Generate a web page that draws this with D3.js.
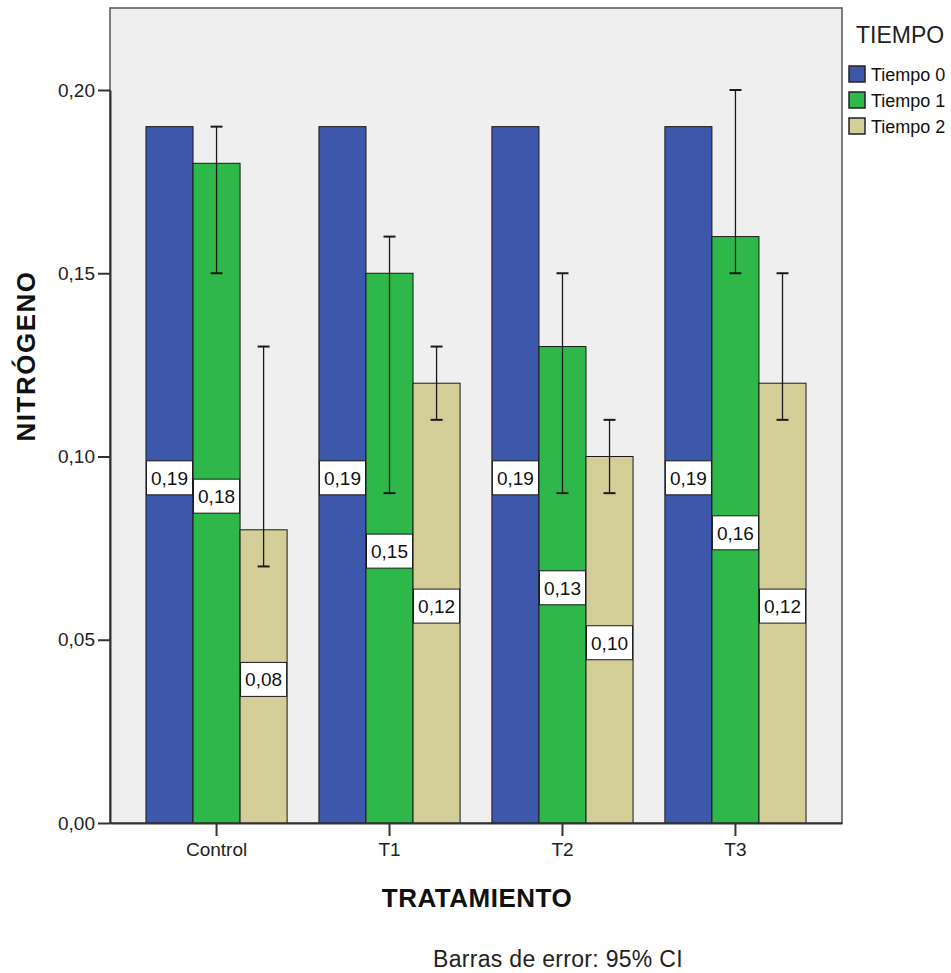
<!DOCTYPE html>
<html><head><meta charset="utf-8">
<script src="https://cdn.jsdelivr.net/npm/d3@7"></script>
<style>body{margin:0;background:#fff;} text{font-family:Arial,"Liberation Sans",sans-serif;}</style>
</head><body>
<svg id="c" width="951" height="973"></svg>
<script>
const categories = ["Control", "T1", "T2", "T3"];
const seriesNames = ["Tiempo 0", "Tiempo 1", "Tiempo 2"];
const tiempo0 = [0.19, 0.19, 0.19, 0.19];
const tiempo1 = [0.18, 0.15, 0.13, 0.16];
const tiempo2 = [0.08, 0.12, 0.10, 0.12];
const tiempo1Low = [0.15, 0.09, 0.09, 0.15];
const tiempo1High = [0.19, 0.16, 0.15, 0.20];
const tiempo2Low = [0.07, 0.11, 0.09, 0.11];
const tiempo2High = [0.13, 0.13, 0.11, 0.15];
const yTicks = [0, 0.05, 0.10, 0.15, 0.20];
const colors = ["#3d57aa", "#2fb84a", "#d3ce97"];

const values = [tiempo0, tiempo1, tiempo2];
const lows = [null, tiempo1Low, tiempo2Low];
const highs = [null, tiempo1High, tiempo2High];

const svg = d3.select("#c");
const L = 110, R = 842, T = 8, B = 823;
const y = d3.scaleLinear().domain([0, 0.2]).range([B, 90]);
const x0 = d3.scaleBand().domain(categories).range([L, R]).paddingInner(0.184).paddingOuter(0.208);
const x1 = d3.scaleBand().domain(seriesNames).range([0, x0.bandwidth()]);

svg.append("rect").attr("x", L).attr("y", T).attr("width", R - L).attr("height", B - T)
  .attr("fill", "#efefef").attr("stroke", "#555").attr("stroke-width", 1.5);

const fmt = v => d3.format(".2f")(v).replace(".", ",");

// bars
categories.forEach((c, i) => {
  seriesNames.forEach((s, j) => {
    const v = values[j][i];
    svg.append("rect").attr("x", x0(c) + x1(s)).attr("y", y(v))
      .attr("width", x1.bandwidth()).attr("height", y(0) - y(v))
      .attr("fill", colors[j]).attr("stroke", "#1a1a1a").attr("stroke-width", 1);
  });
});
// labels
categories.forEach((c, i) => {
  seriesNames.forEach((s, j) => {
    const v = values[j][i];
    const cy = y(v / 2) + 3;
    const bx = x0(c) + x1(s);
    svg.append("rect").attr("x", bx + 0.5).attr("y", cy - 17).attr("width", x1.bandwidth() - 1).attr("height", 34)
      .attr("fill", "#fff").attr("stroke", "#1a1a1a").attr("stroke-width", 1);
    svg.append("text").attr("x", bx + x1.bandwidth() / 2).attr("y", cy + 7)
      .attr("text-anchor", "middle").attr("font-size", 19).attr("fill", "#111").text(fmt(v));
  });
});
// error bars
categories.forEach((c, i) => {
  seriesNames.forEach((s, j) => {
    if (!lows[j]) return;
    const cx = x0(c) + x1(s) + x1.bandwidth() / 2;
    const lo = lows[j][i], hi = highs[j][i];
    const g = svg.append("g").attr("stroke", "#1a1a1a").attr("stroke-width", 1.3);
    g.append("line").attr("x1", cx).attr("x2", cx).attr("y1", y(lo)).attr("y2", y(hi));
    g.append("line").attr("x1", cx - 6).attr("x2", cx + 6).attr("y1", y(lo)).attr("y2", y(lo)).attr("stroke-width", 2);
    g.append("line").attr("x1", cx - 6).attr("x2", cx + 6).attr("y1", y(hi)).attr("y2", y(hi)).attr("stroke-width", 2);
  });
});

// y axis
const ya = svg.append("g").attr("transform", `translate(${L},0)`)
  .call(d3.axisLeft(y).tickValues(yTicks).tickSize(12).tickSizeOuter(0).tickPadding(3).tickFormat(fmt));
ya.select(".domain").attr("stroke", "#333").attr("stroke-width", 2);
ya.selectAll(".tick line").attr("stroke", "#333").attr("stroke-width", 2);
ya.selectAll(".tick text").attr("font-size", 19).attr("fill", "#222").attr("font-family", "Arial,Liberation Sans,sans-serif");

// x axis
const xa = svg.append("g").attr("transform", `translate(0,${B})`)
  .call(d3.axisBottom(x0).tickSize(13).tickSizeOuter(0).tickPadding(7));
xa.select(".domain").attr("stroke", "#333").attr("stroke-width", 2);
xa.selectAll(".tick line").attr("stroke", "#333").attr("stroke-width", 2);
xa.selectAll(".tick text").attr("font-size", 19).attr("fill", "#222").attr("font-family", "Arial,Liberation Sans,sans-serif");

// titles
svg.append("text").attr("transform", "translate(35,356) rotate(-90)").attr("text-anchor", "middle")
  .attr("font-size", 26).attr("font-weight", "bold").attr("letter-spacing", 1.5).attr("fill", "#111").text("NITRÓGENO");
svg.append("text").attr("x", 477).attr("y", 907).attr("text-anchor", "middle")
  .attr("font-size", 26).attr("font-weight", "bold").attr("letter-spacing", 0.5).attr("fill", "#111").text("TRATAMIENTO");
svg.append("text").attr("x", 558).attr("y", 967).attr("text-anchor", "middle")
  .attr("font-size", 23).attr("letter-spacing", 0.3).attr("fill", "#222").text("Barras de error: 95% CI");

// legend
svg.append("text").attr("x", 856).attr("y", 43).attr("font-size", 23).attr("fill", "#222").text("TIEMPO");
seriesNames.forEach((s, j) => {
  const ty = 66 + j * 26;
  svg.append("rect").attr("x", 849).attr("y", ty).attr("width", 16).attr("height", 16)
    .attr("fill", colors[j]).attr("stroke", "#222").attr("stroke-width", 1.5);
  svg.append("text").attr("x", 871).attr("y", ty + 15).attr("font-size", 18).attr("fill", "#111").text(s);
});
</script>
</body></html>
